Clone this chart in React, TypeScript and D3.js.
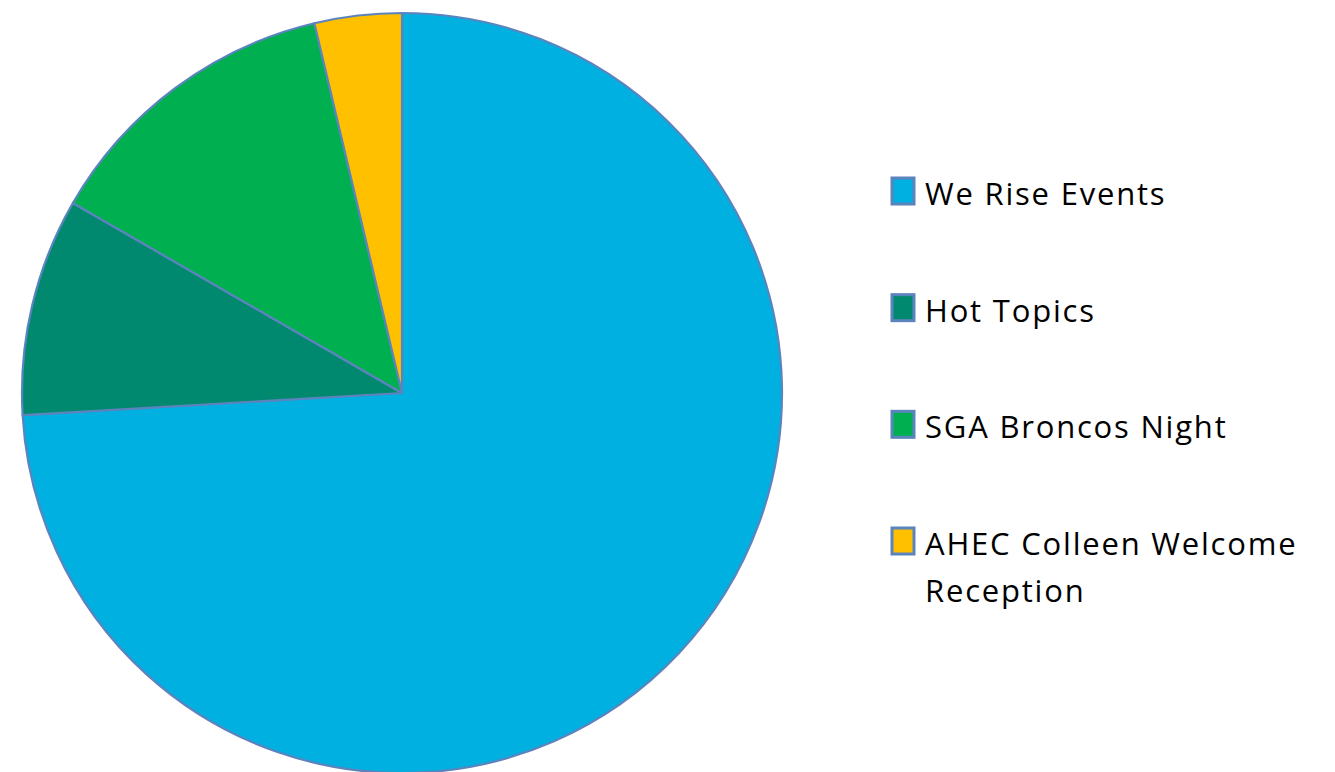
import React from "react";
import * as d3 from "d3";

const categories = ["We Rise Events", "Hot Topics", "SGA Broncos Night", "AHEC Colleen Welcome Reception"];
const values = [40, 5, 7, 2];
const colors = ["#00B0E0", "#00896E", "#00B050", "#FFC000"];
const legendLines = [["We Rise Events"], ["Hot Topics"], ["SGA Broncos Night"], ["AHEC Colleen Welcome", "Reception"]];

export default function App() {
  const W = 1335, H = 772;
  const cx = 402, cy = 393, r = 380;
  const pie = d3.pie<number>().sort(null).value((d) => d)(values);
  const arc = d3.arc<d3.PieArcDatum<number>>().innerRadius(0).outerRadius(r);
  const legendY = d3.scalePoint<number>().domain(d3.range(categories.length)).range([205, 555]);
  return (
    <svg width={W} height={H} style={{ position: "absolute", left: 0, top: 0, background: "#fff" }}>
      <g transform={`translate(${cx},${cy})`}>
        {pie.map((p, i) => (
          <path key={i} d={arc(p) || ""} fill={colors[i]} stroke="#5B84BE" strokeWidth={2.2} strokeLinejoin="round" />
        ))}
      </g>
      {categories.map((c, i) => {
        const y = legendY(i)!;
        return (
          <g key={c}>
            <rect x={892} y={y - 27} width={22} height={26} fill={colors[i]} stroke="#5B84BE" strokeWidth={3} />
            <text x={925} y={y} fontFamily="'Open Sans', sans-serif" fontSize={31} fill="#000" letterSpacing={1.8}>
              {legendLines[i].map((l, j) => (
                <tspan key={j} x={925} y={y + j * 47}>{l}</tspan>
              ))}
            </text>
          </g>
        );
      })}
    </svg>
  );
}
